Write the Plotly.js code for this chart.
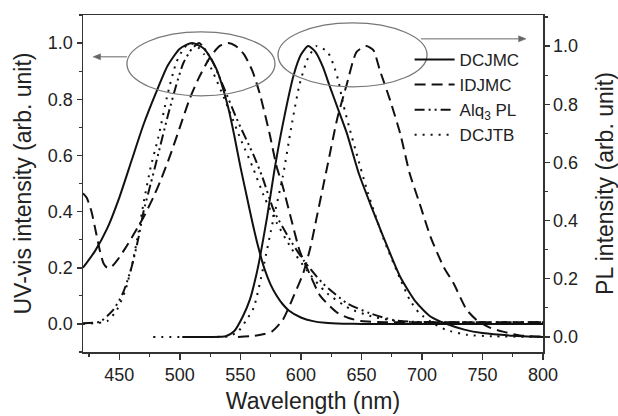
<!DOCTYPE html>
<html>
<head>
<meta charset="utf-8">
<script src="https://cdn.plot.ly/plotly-3.0.1.min.js"></script>
<style>html,body{margin:0;padding:0;background:#fff;}#chart{width:618px;height:416px;}</style>
</head>
<body>
<div id="chart"></div>
<script>
// ---- Data ----
// Left axis: UV-vis absorption + Alq3 PL
const dcjmcAbsX = [420,430,440,450,460,470,480,490,500,510,520,530,540,545,550,555,560,565,570,575,580,585,590,600,610,620,635,650,700,750,800];
const dcjmcAbsY = [0.20,0.26,0.34,0.45,0.58,0.71,0.82,0.92,0.98,1.00,0.98,0.91,0.77,0.67,0.56,0.46,0.36,0.27,0.195,0.14,0.10,0.07,0.048,0.023,0.010,0.004,0.001,0,0,0,0];

const idjmcAbsX = [420,423,427,431,434,437,440,444,448,455,462,470,478,484,492,500,508,515,525,533,540,546,553,560,566,574,580,585,591,599,606,616,630,640,650,670,700,800];
const idjmcAbsY = [0.465,0.45,0.40,0.32,0.26,0.215,0.20,0.205,0.225,0.27,0.32,0.38,0.45,0.51,0.60,0.70,0.80,0.87,0.95,0.99,1.00,0.99,0.96,0.90,0.82,0.68,0.56,0.49,0.39,0.26,0.19,0.10,0.04,0.02,0.01,0.006,0.006,0.006];

const alq3PlX = [420,434,445,453,460,466,470,476,481,490,497,503,510,516,522,527,536,547,561,568,578,592,603,618,638,657,676,690,720,800];
const alq3PlY = [0.002,0.008,0.05,0.11,0.20,0.31,0.40,0.50,0.585,0.74,0.85,0.93,0.98,1.00,0.97,0.935,0.845,0.73,0.60,0.525,0.40,0.293,0.222,0.145,0.074,0.038,0.014,0.008,0.006,0.006];

const dcjtbAbsX = [420,440,448,455,461,466,470,476,482,490,497,503,508,514,520,528,538,550,560,570,580,592,605,620,640,660,680,700,800];
const dcjtbAbsY = [0,0.01,0.05,0.12,0.22,0.33,0.43,0.56,0.66,0.82,0.93,0.98,1.00,0.99,0.96,0.89,0.79,0.66,0.56,0.45,0.36,0.27,0.19,0.115,0.055,0.025,0.01,0.006,0.006];

// Right axis: PL
const dcjmcPlX = [502,520,538,545,552,558,563,566,572,578,585,594,600,606,612,618,624,631,638,648,658,668,682,695,707,720,735,750,775,800];
const dcjmcPlY = [0,0,0.002,0.02,0.07,0.13,0.21,0.27,0.41,0.57,0.73,0.90,0.97,1.00,0.98,0.93,0.86,0.78,0.70,0.56,0.45,0.345,0.207,0.12,0.07,0.045,0.025,0.013,0.004,0];

const idjmcPlX = [548,560,570,576,585,594,602,608,613,618,622,630,638,646,654,660,665,674,682,690,698,707,718,726,737,746,756,767,781,800];
const idjmcPlY = [0,0.003,0.01,0.018,0.058,0.14,0.22,0.31,0.41,0.51,0.59,0.75,0.87,0.98,1.00,0.985,0.92,0.81,0.70,0.56,0.46,0.345,0.24,0.185,0.093,0.055,0.032,0.018,0.005,0];

const dcjtbPlX = [478,500,520,540,548,555,561,569,577,585,592,599,606,613,622,627,631,635,640,646,655,668,682,690,698,710,720,737,760,800];
const dcjtbPlY = [0,0,0,0.002,0.018,0.058,0.10,0.24,0.40,0.55,0.72,0.87,0.96,1.00,0.98,0.935,0.88,0.80,0.72,0.63,0.50,0.34,0.20,0.127,0.081,0.045,0.024,0.007,0.002,0];

const legendNames = ['DCJMC','IDJMC','Alq<sub>3</sub> PL','DCJTB'];
const xTickVals = [450,500,550,600,650,700,750,800];

// ---- Styles ----
const INK = '#111';
const dashIDJMC = '11px,6px';
const dashAlq3 = '10px,4px,2px,4px,2px,4px';
const dashDCJTB = '2px,6px';

function tr(x, y, name, dash, yaxis, show, group) {
  return {
    x: x, y: y, name: name, type: 'scatter', mode: 'lines',
    yaxis: yaxis, showlegend: show, legendgroup: group,
    line: {color: INK, width: 2, dash: dash, shape: 'spline', smoothing: 0.6},
    hoverinfo: 'skip'
  };
}

const data = [
  tr(dcjmcAbsX, dcjmcAbsY, legendNames[0], 'solid', 'y', true, 'a'),
  tr(idjmcAbsX, idjmcAbsY, legendNames[1], dashIDJMC, 'y', true, 'b'),
  tr(alq3PlX, alq3PlY, legendNames[2], dashAlq3, 'y', true, 'c'),
  tr(dcjtbAbsX, dcjtbAbsY, legendNames[3], dashDCJTB, 'y', true, 'd'),
  tr(dcjmcPlX, dcjmcPlY, legendNames[0], 'solid', 'y2', false, 'a'),
  tr(idjmcPlX, idjmcPlY, legendNames[1], dashIDJMC, 'y2', false, 'b'),
  tr(dcjtbPlX, dcjtbPlY, legendNames[3], dashDCJTB, 'y2', false, 'd')
];

const FONT = 'Liberation Sans, Arial, sans-serif';
const AX = '#333';
const GRAY = '#666';

// arrow helper: line + filled triangular head (data coords of left y axis)
function arrow(xTail, xHead, yv) {
  const dir = Math.sign(xHead - xTail);
  const hl = 7.5 * 0.826, hw = 3 / 280.7;
  const xb = xHead - dir * hl;
  return [
    {type: 'line', xref: 'x', yref: 'y', x0: xTail, x1: xb, y0: yv, y1: yv, line: {color: GRAY, width: 1}},
    {type: 'path', xref: 'x', yref: 'y',
     path: `M${xHead},${yv} L${xb},${yv + hw} L${xb},${yv - hw} Z`,
     fillcolor: GRAY, line: {color: GRAY, width: 0.5}}
  ];
}

const layout = {
  width: 618, height: 416,
  margin: {l: 83, r: 75, t: 15, b: 64},
  paper_bgcolor: '#fff', plot_bgcolor: '#fff',
  font: {family: FONT, color: '#222', size: 18},
  showlegend: true,
  legend: {
    x: 0.71, y: 0.92, xanchor: 'left', yanchor: 'top',
    bgcolor: 'rgba(0,0,0,0)', borderwidth: 0,
    font: {family: FONT, size: 17, color: '#222'},
    itemwidth: 40, tracegroupgap: 0
  },
  xaxis: {
    range: [420, 800], tickvals: xTickVals, ticktext: xTickVals.map(String),
    ticks: 'outside', ticklen: 6, tickwidth: 1.5, tickcolor: AX,
    minor: {dtick: 25, tick0: 425, ticks: 'outside', ticklen: 3, tickwidth: 1.2, tickcolor: AX},
    showline: true, linecolor: AX, linewidth: 1.5, mirror: true,
    showgrid: false, zeroline: false,
    tickfont: {size: 18, family: FONT, color: '#222'},
    title: {text: 'Wavelength (nm)', font: {size: 23, family: FONT, color: '#222'}, standoff: 9}
  },
  yaxis: {
    range: [-0.1, 1.1], dtick: 0.2, tick0: 0, tickformat: '.1f',
    ticks: 'outside', ticklen: 5, tickwidth: 1.5, tickcolor: AX,
    minor: {dtick: 0.1, tick0: 0, ticks: 'outside', ticklen: 3, tickwidth: 1.2, tickcolor: AX},
    showline: true, linecolor: AX, linewidth: 1.5,
    showgrid: false, zeroline: false,
    tickfont: {size: 18, family: FONT, color: '#222'},
    title: {text: 'UV-vis intensity (arb. unit)', font: {size: 23, family: FONT, color: '#222'}, standoff: 10}
  },
  yaxis2: {
    overlaying: 'y', side: 'right',
    range: [-0.052, 1.107], dtick: 0.2, tick0: 0, tickformat: '.1f',
    ticks: 'outside', ticklen: 5, tickwidth: 1.5, tickcolor: AX,
    minor: {dtick: 0.1, tick0: 0, ticks: 'outside', ticklen: 3, tickwidth: 1.2, tickcolor: AX},
    showline: true, linecolor: AX, linewidth: 1.5,
    showgrid: false, zeroline: false,
    tickfont: {size: 18, family: FONT, color: '#222'},
    title: {text: 'PL intensity (arb. unit)', font: {size: 23, family: FONT, color: '#222'}, standoff: 20}
  },
  shapes: [
    {type: 'circle', xref: 'x', yref: 'y', x0: 456.3, x1: 578.6, y0: 0.812, y1: 1.040,
     line: {color: '#777', width: 1.3}, fillcolor: 'rgba(0,0,0,0)'},
    {type: 'circle', xref: 'x', yref: 'y', x0: 581.1, x1: 704.2, y0: 0.844, y1: 1.072,
     line: {color: '#777', width: 1.3}, fillcolor: 'rgba(0,0,0,0)'}
  ].concat(arrow(456.3, 428.3, 0.951), arrow(699.2, 786, 1.015))
};

Plotly.newPlot('chart', data, layout, {staticPlot: true, displayModeBar: false});
</script>
</body>
</html>
